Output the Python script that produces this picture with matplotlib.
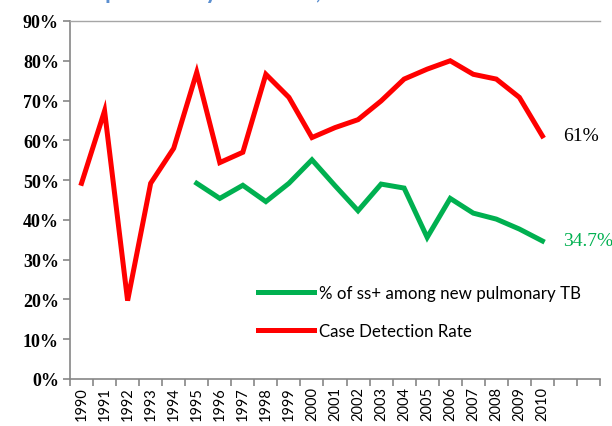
import numpy as np
import matplotlib.pyplot as plt
from matplotlib.ticker import MultipleLocator, FixedLocator, FuncFormatter

years = list(range(1990, 2011))
slots = [str(y) for y in years] + ["", ""]

cdr = [49.2, 67.4, 19.7, 49.2, 58.0, 77.1, 54.4, 57.0, 76.6, 70.8, 60.7,
       63.2, 65.2, 69.9, 75.4, 77.9, 80.0, 76.6, 75.4, 70.8, 61.1]
ss_years = list(range(1995, 2011))
ss_pos = [49.2, 45.4, 48.7, 44.6, 49.2, 55.1, 48.6, 42.3, 49.0, 48.0,
          35.6, 45.4, 41.7, 40.2, 37.7, 34.7]

fig = plt.figure(figsize=(6.12, 4.27), dpi=100)
ax = fig.add_axes([70 / 612, 1 - 380 / 427, 530 / 612, 358 / 427])

x_cdr = [years.index(y) for y in years]
x_ss = [years.index(y) for y in ss_years]

ax.plot(x_ss, [v / 100 for v in ss_pos], color="#00B050", lw=3.6,
        solid_joinstyle="miter", label="% of ss+ among new pulmonary TB")
ax.plot(x_cdr, [v / 100 for v in cdr], color="#FF0000", lw=3.6,
        solid_joinstyle="miter", label="Case Detection Rate")

ax.set_xlim(-0.5, len(slots) - 0.5)
ax.set_ylim(0, 0.9)
ax.yaxis.set_major_locator(MultipleLocator(0.1))
ax.yaxis.set_major_formatter(FuncFormatter(lambda v, p: f"{v * 100:.0f}%"))
for lab in ax.get_yticklabels():
    lab.set_fontfamily("Liberation Serif")
    lab.set_fontweight("bold")
    lab.set_fontsize(13)

ax.xaxis.set_major_locator(FixedLocator(np.arange(-0.5, len(slots), 1.0)))
ax.xaxis.set_minor_locator(FixedLocator(np.arange(len(slots))))
ax.set_xticklabels([], minor=False)
ax.set_xticks(np.arange(len(slots)), slots, minor=True, rotation=90,
              fontsize=10.5, fontfamily="Lato")
ax.tick_params(axis="x", which="minor", length=0, pad=5)
ax.tick_params(axis="x", which="major", length=5, color="#868686", width=1.2)
ax.tick_params(axis="y", length=5, color="#868686", width=1.2, pad=3)

ax.spines["right"].set_visible(False)
ax.spines["left"].set_color("#868686")
ax.spines["bottom"].set_color("#868686")
ax.spines["left"].set_linewidth(1.2)
ax.spines["bottom"].set_linewidth(1.2)
ax.spines["top"].set_color("#A6A6A6")
ax.spines["top"].set_linewidth(1.0)

ax.text(20.9, cdr[-1] / 100, "61%", color="black", fontsize=14,
        fontfamily="Liberation Serif", va="center", ha="left")
ax.text(20.9, ss_pos[-1] / 100, "34.7%", color="#00B050", fontsize=14,
        fontfamily="Liberation Serif", va="center", ha="left")

leg = ax.legend(loc="center left", bbox_to_anchor=(0.355, 0.186), frameon=False,
                prop={"family": "Lato", "size": 12.2}, handlelength=3.3,
                labelspacing=1.3, handletextpad=0.3, borderpad=0,
                borderaxespad=0)

# title sits mostly above the visible area, as in the source image
fig.text(105 / 612, 1 + 1 / 427, "pulmonary TB cases, 1990-2010",
         color="#5B8FD0", fontsize=17, fontweight="bold", fontfamily="Lato",
         ha="left", va="baseline")

fig.savefig("out.png", dpi=100)
